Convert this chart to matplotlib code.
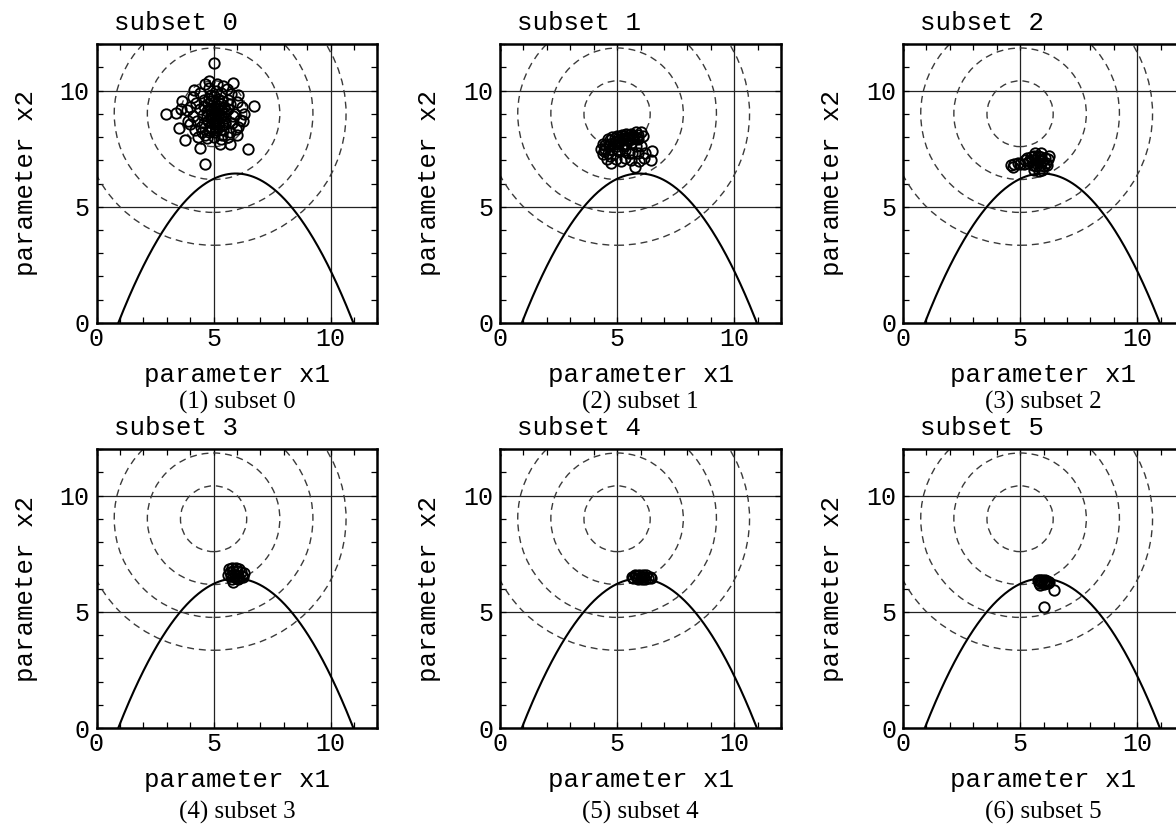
"""Six-panel view of how the sample subsets move toward the constrained optimum."""
import matplotlib
matplotlib.use("Agg")
import matplotlib.pyplot as plt
import numpy as np
from matplotlib.patches import Circle

MONO = "Liberation Mono"
SERIF = "Liberation Serif"

# sample points per subset
subset0_x = [5.02, 4.82, 5.82, 5.16, 4.18, 6.06, 3.64, 6.74, 2.97, 3.40, 3.54, 3.78,
             4.42, 5.28, 5.68, 6.02, 6.49, 4.64, 6.23, 6.13, 4.00, 3.85, 4.14, 5.56,
             6.06, 4.6, 4.9, 5.3, 5.6, 4.4, 4.7, 5.0, 5.3, 5.6, 5.9, 4.3, 4.6, 4.9,
             5.2, 5.5, 5.8, 4.5, 4.8, 5.1, 5.4, 5.7, 4.7, 5.0, 5.3, 4.4, 5.1, 5.4,
             4.8, 5.0, 5.1, 4.95, 5.25, 4.75, 5.45, 4.55, 5.7, 5.2, 4.85, 5.35, 4.25,
             5.95, 4.1, 6.3, 3.9, 5.05, 4.65, 5.75, 4.35, 6.0, 5.5, 4.9, 5.15, 4.45,
             5.6, 4.2, 6.25, 5.85, 3.6, 4.0, 5.3,
             4.7, 4.85, 5.0, 5.15, 5.3, 5.45, 4.6, 4.75, 4.9, 5.05, 5.2, 5.35, 5.5,
             4.8, 4.95, 5.1, 5.25, 5.4, 4.65, 5.55, 5.0, 5.2, 4.9, 5.1, 4.8, 5.3]
subset0_y = [11.17, 10.43, 10.31, 10.29, 10.03, 9.79, 9.53, 9.33, 9.00, 9.04, 8.38, 7.88,
             7.54, 7.71, 7.68, 8.07, 7.48, 6.85, 9.28, 8.71, 8.57, 9.14, 9.71, 10.07,
             8.42, 9.6, 9.8, 9.9, 9.6, 9.2, 9.1, 9.3, 9.4, 9.2, 9.0, 8.7, 8.6, 8.8,
             8.9, 8.8, 8.6, 8.2, 8.3, 8.4, 8.3, 8.2, 7.95, 8.0, 7.9, 9.9, 10.0, 10.2,
             10.1, 9.0, 9.1, 8.6, 8.6, 9.4, 9.0, 8.95, 9.4, 9.65, 8.45, 8.1, 9.45,
             8.35, 8.9, 9.0, 8.7, 8.2, 10.3, 9.85, 8.0, 9.5, 8.55, 9.55, 8.75, 8.45,
             8.0, 8.3, 8.7, 8.9, 9.2, 9.3, 9.15,
             8.9, 9.2, 9.5, 9.25, 8.85, 9.3, 9.35, 8.7, 9.0, 8.55, 9.0, 9.55, 8.65,
             8.2, 8.35, 8.7, 8.45, 8.5, 8.1, 9.1, 9.75, 9.35, 9.15, 8.3, 9.65, 8.95]

subset1_x = [4.3, 4.4, 4.6, 4.8, 5.0, 5.2, 5.4, 5.6, 5.8, 6.0, 4.5, 4.7, 4.9, 5.1, 5.3,
             5.5, 5.7, 5.9, 6.1, 4.6, 4.8, 5.0, 5.2, 5.4, 5.6, 5.8, 6.0, 5.1, 5.35, 5.65,
             5.9, 4.4, 4.55, 4.75, 4.95, 5.15, 5.35, 5.6, 5.75, 5.95, 6.15, 6.5, 6.45,
             6.2, 5.5, 4.7,
             4.5, 4.7, 4.9, 5.1, 5.3, 5.5, 5.7, 5.9, 4.65, 4.85, 5.05, 5.25, 5.45,
             5.65, 5.85, 4.45, 5.0, 5.3]
subset1_y = [7.5, 7.7, 7.9, 8.0, 8.05, 8.1, 8.15, 8.15, 8.2, 8.2, 7.5, 7.7, 7.8, 7.85, 7.95,
             7.95, 8.0, 7.9, 8.05, 7.3, 7.5, 7.6, 7.65, 7.7, 7.75, 7.6, 7.6, 7.4, 7.45, 7.3,
             7.3, 7.25, 7.05, 6.9, 7.05, 6.95, 7.1, 7.0, 6.7, 6.95, 7.1, 7.4, 7.0,
             7.3, 7.3, 7.2,
             7.65, 7.85, 7.95, 8.0, 8.05, 8.1, 8.1, 8.1, 7.6, 7.7, 7.8, 7.85, 7.85,
             7.9, 7.95, 7.4, 7.45, 7.6]

subset2_x = [4.6, 4.75, 4.7, 4.9, 5.0, 5.2, 5.3, 5.45, 5.6, 5.75, 5.9, 6.05, 6.2, 5.35,
             5.5, 5.65, 5.8, 5.95, 6.1, 5.55, 5.7, 5.85, 6.0, 6.15, 5.6, 5.8, 5.95, 5.7,
             5.4, 6.25, 5.15, 5.9, 5.65]
subset2_y = [6.8, 6.85, 6.7, 6.9, 6.85, 7.0, 7.1, 7.15, 7.2, 7.2, 7.15, 7.1, 7.05, 6.9,
             7.0, 7.0, 7.0, 6.95, 6.9, 6.8, 6.75, 6.8, 6.75, 6.8, 6.6, 6.55, 6.6, 6.9,
             6.95, 7.2, 6.85, 7.3, 7.3]

subset3_x = [5.65, 5.8, 5.95, 6.1, 5.7, 5.85, 6.0, 6.15, 6.3, 5.75, 5.9, 6.05, 6.2, 5.8,
             5.95, 6.1, 5.85, 6.25, 5.6, 6.05]
subset3_y = [6.85, 6.9, 6.9, 6.85, 6.7, 6.75, 6.75, 6.7, 6.65, 6.55, 6.6, 6.55, 6.55, 6.4,
             6.45, 6.45, 6.3, 6.5, 6.6, 6.4]

subset4_x = [5.65, 5.8, 5.95, 6.1, 6.25, 6.4, 5.7, 5.85, 6.0, 6.15, 6.3, 5.9, 6.05, 6.2,
             6.45, 5.75]
subset4_y = [6.5, 6.55, 6.6, 6.6, 6.58, 6.5, 6.45, 6.45, 6.5, 6.48, 6.45, 6.42, 6.42, 6.42,
             6.45, 6.6]

subset5_x = [5.75, 5.85, 5.95, 6.05, 6.15, 6.25, 5.8, 5.9, 6.0, 6.1, 6.2, 5.85, 6.0,
             6.45, 6.03]
subset5_y = [6.35, 6.38, 6.38, 6.36, 6.33, 6.3, 6.25, 6.28, 6.28, 6.25, 6.22, 6.15, 6.18,
             5.95, 5.2]

subsets = [(subset0_x, subset0_y), (subset1_x, subset1_y), (subset2_x, subset2_y),
           (subset3_x, subset3_y), (subset4_x, subset4_y), (subset5_x, subset5_y)]

# objective contours: (x1 - 5)^2 + (x2 - 9)^2 = level
contour_center = (5.0, 9.0)
contour_levels = [2, 8, 18, 32]

# constraint boundary (parabola): zero crossings and peak height
constraint_roots = (0.93, 10.97)
constraint_peak = 6.43

panel_titles = [f"subset {i}" for i in range(6)]
captions = [f"({i + 1}) subset {i}" for i in range(6)]

# axes boxes in pixels (left, top) on a 1176 x 827 canvas
FIG_W, FIG_H = 1176, 827
AX_W, AX_H = 281, 279
col_left = [96.5, 500, 903]
row_top = [44, 449]


def draw_panel(ax, xs, ys, title, caption, caption_y):
    ax.set_xlim(0, 12)
    ax.set_ylim(0, 12)

    for v in (5, 10):
        ax.axvline(v, color="#222222", lw=0.9, zorder=1)
        ax.axhline(v, color="#222222", lw=0.9, zorder=1)

    for level in contour_levels:
        ax.add_patch(Circle(contour_center, np.sqrt(level), fill=False,
                            ec="#3a3a3a", lw=1.0, ls=(0, (5, 3.5)), zorder=2))

    lo, hi = constraint_roots
    mid, half = (lo + hi) / 2, (hi - lo) / 2
    cx = np.linspace(lo, hi, 300)
    ax.plot(cx, constraint_peak * (1 - ((cx - mid) / half) ** 2),
            color="black", lw=1.5, zorder=3)

    ax.plot(xs, ys, ls="none", marker="o", ms=7.5, mfc="none",
            mec="black", mew=1.35, zorder=4)

    ax.set_xticks([0, 5, 10])
    ax.set_yticks([0, 5, 10])
    ax.set_xticks(range(13), minor=True)
    ax.set_yticks(range(13), minor=True)
    ax.tick_params(which="both", direction="in", top=True, right=True,
                   length=4, width=0.9, labelsize=18)
    ax.tick_params(axis="x", pad=3)
    ax.tick_params(axis="y", pad=5)
    for lab in ax.get_xticklabels() + ax.get_yticklabels():
        lab.set_family(MONO)
    for sp in ax.spines.values():
        sp.set_linewidth(1.8)

    ax.set_xlabel("parameter x1", family=MONO, fontsize=18.5, va="center")
    ax.xaxis.set_label_coords(0.5, -52 / AX_H)
    ax.set_ylabel("parameter x2", family=MONO, fontsize=18.5, va="center")
    ax.yaxis.set_label_coords(-71 / AX_W, 0.5)

    ax.text(17 / AX_W, 1 + 21 / AX_H, title, transform=ax.transAxes,
            family=MONO, fontsize=18.5, ha="left", va="center")
    ax.text(0.5, caption_y, caption, transform=ax.transAxes,
            family=SERIF, fontsize=18, ha="center", va="center")


fig = plt.figure(figsize=(FIG_W / 100, FIG_H / 100), dpi=100)
for i, (xs, ys) in enumerate(subsets):
    r, c = divmod(i, 3)
    left = col_left[c] / FIG_W
    bottom = 1 - (row_top[r] + AX_H) / FIG_H
    ax = fig.add_axes([left, bottom, AX_W / FIG_W, AX_H / FIG_H])
    cap_y = -(79 if r == 0 else 84) / AX_H
    draw_panel(ax, xs, ys, panel_titles[i], captions[i], cap_y)

fig.savefig("out.png", dpi=100)
plt.close(fig)
